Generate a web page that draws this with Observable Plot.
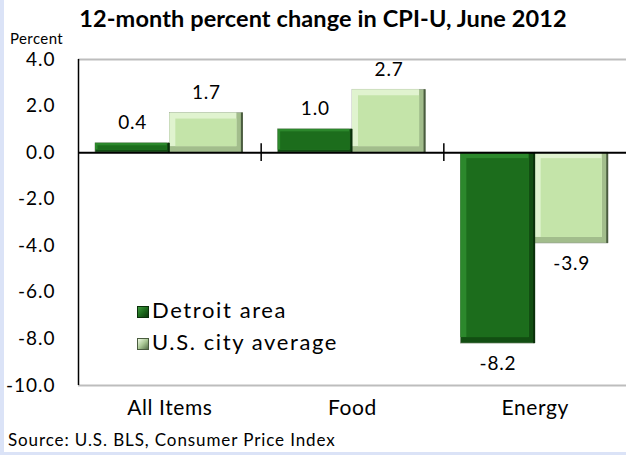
<!DOCTYPE html>
<html>
<head>
<meta charset="utf-8">
<script src="https://cdn.jsdelivr.net/npm/d3@7"></script>
<script src="https://cdn.jsdelivr.net/npm/@observablehq/plot@0.6"></script>
<style>
  html, body { margin: 0; padding: 0; background: #fff; }
  #wrap { position: relative; width: 626px; height: 455px; overflow: hidden; font-family: Lato, "Open Sans", sans-serif; color: #000; }
  #chart { position: absolute; left: 0; top: 0; }
  .title { position: absolute; left: 0; width: 646px; top: 4px; text-align: center; font-weight: bold; font-size: 23.5px; letter-spacing: 0.1px; }
  .ylab { position: absolute; left: 10px; top: 29px; font-size: 15px; letter-spacing: 0.4px; }
  .source { position: absolute; left: 8px; top: 429px; font-size: 17px; letter-spacing: 0.9px; }
  .legend { position: absolute; left: 137px; top: 294px; font-size: 22px; line-height: 32px; letter-spacing: 1.6px; }
  .legend .sw { display: inline-block; width: 12px; height: 12px; margin-right: 3px; vertical-align: 0px; box-sizing: border-box; }
  .stripL { position: absolute; left: 0; top: 0; width: 4px; height: 455px; background: #dbe3f7; }
  .stripB { position: absolute; left: 0; top: 452px; width: 626px; height: 3px; background: #dbe3f7; }
</style>
</head>
<body>
<div id="wrap">
  <div id="chart"></div>
  <div class="title">12-month percent change in CPI-U, June 2012</div>
  <div class="ylab">Percent</div>
  <div class="legend" id="legend"></div>
  <div class="source">Source: U.S. BLS, Consumer Price Index</div>
  <div class="stripL"></div>
  <div class="stripB"></div>
</div>
<script>
// ---- data ----
const categories = ["All Items", "Food", "Energy"];
const seriesNames = ["Detroit area", "U.S. city average"];
const detroit = [0.4, 1.0, -8.2];
const usCity = [1.7, 2.7, -3.9];
const yTicks = [4, 2, 0, -2, -4, -6, -8, -10];

// ---- styles ----
const palette = {
  "Detroit area": {shade: "#124e12", line: "#0a300a", hi: "#2c882c", face: "#1c6d1c", sw: "linear-gradient(135deg,#3f9a3f,#1d6b1d 50%,#0b360b)"},
  "U.S. city average": {shade: "#a2bd8c", line: "#4a5c3f", hi: "#e0f3cf", face: "#c4e4a9", sw: "linear-gradient(135deg,#eef9e4,#a9c794 50%,#56704a)"}
};
const groupStart = 0.093, groupMid = 0.5, groupEnd = 0.9;

const rows = [];
categories.forEach((c, i) => {
  [detroit, usCity].forEach((vals, s) => {
    const x1 = i + (s === 0 ? groupStart : groupMid);
    const x2 = i + (s === 0 ? groupMid : groupEnd);
    rows.push({cat: c, i, series: seriesNames[s], value: vals[i], x1, x2, xc: (x1 + x2) / 2});
  });
});
const big = rows.filter(d => Math.abs(d.value) >= 1.5);
const small = rows.filter(d => Math.abs(d.value) < 1.5);

const fmt = d => d.toFixed(1);
const bevelLayers = (data, bev) => [
  Plot.rect(data, {x1: "x1", x2: "x2", y1: 0, y2: "value", fill: d => palette[d.series].hi, insetRight: bev, insetBottom: bev}),
  Plot.rect(data, {x1: "x1", x2: "x2", y1: 0, y2: "value", fill: d => palette[d.series].face, inset: bev})
];

const plot = Plot.plot({
  width: 626,
  height: 455,
  marginTop: 59,
  marginBottom: 70,
  marginLeft: 78,
  marginRight: 0,
  style: {fontFamily: "Lato, 'Open Sans', sans-serif", background: "transparent", color: "#000", overflow: "visible"},
  x: {domain: [0, 3], ticks: categories.map((c, i) => i + 0.5), tickFormat: (d) => categories[Math.floor(d)], tickSize: 0, tickPadding: 15, label: null},
  y: {domain: [-10, 4], ticks: yTicks, tickFormat: fmt, tickSize: 0, tickPadding: 23, label: null},
  marks: [
    Plot.ruleY([4, -10], {stroke: "#bdbdbd", strokeWidth: 2}),
    Plot.rect(rows, {x1: "x1", x2: "x2", y1: 0, y2: "value", fill: d => palette[d.series].shade, stroke: "#8f9a88", strokeWidth: 0.6}),
    ...bevelLayers(big, 6),
    ...bevelLayers(small, 2.5),
    Plot.ruleX(rows, {x: "x2", y1: 0, y2: "value", dx: -1, stroke: d => palette[d.series].line, strokeWidth: 2}),
    Plot.ruleY([0], {stroke: "#000", strokeWidth: 2}),
    Plot.ruleX([1, 2], {y1: -0.38, y2: 0.38, stroke: "#000", strokeWidth: 1.5}),
    Plot.ruleX([0], {y1: -10, y2: 4, stroke: "#000", strokeWidth: 1.5}),
    Plot.text(rows.filter(d => d.value >= 0), {x: "xc", y: "value", text: d => fmt(d.value), dy: -20, fontSize: 19, className: "vlab"}),
    Plot.text(rows.filter(d => d.value < 0), {x: "xc", y: "value", text: d => fmt(d.value), dy: 20, fontSize: 19, className: "vlab"})
  ]
});
plot.querySelectorAll("g[aria-label='y-axis tick label']").forEach(n => { n.setAttribute("font-size", "19"); n.setAttribute("letter-spacing", "1"); });
plot.querySelectorAll("g[aria-label='x-axis tick label']").forEach(n => { n.setAttribute("font-size", "21"); n.setAttribute("letter-spacing", "0.6"); });
plot.querySelectorAll("g.vlab").forEach(n => n.setAttribute("letter-spacing", "0.8"));
document.getElementById("chart").appendChild(plot);

const legend = document.getElementById("legend");
seriesNames.forEach(s => {
  const row = document.createElement("div");
  const sw = document.createElement("span");
  sw.className = "sw";
  sw.style.background = palette[s].sw;
  sw.style.border = "1px solid " + palette[s].line;
  row.appendChild(sw);
  row.appendChild(document.createTextNode(s));
  legend.appendChild(row);
});
</script>
</body>
</html>
